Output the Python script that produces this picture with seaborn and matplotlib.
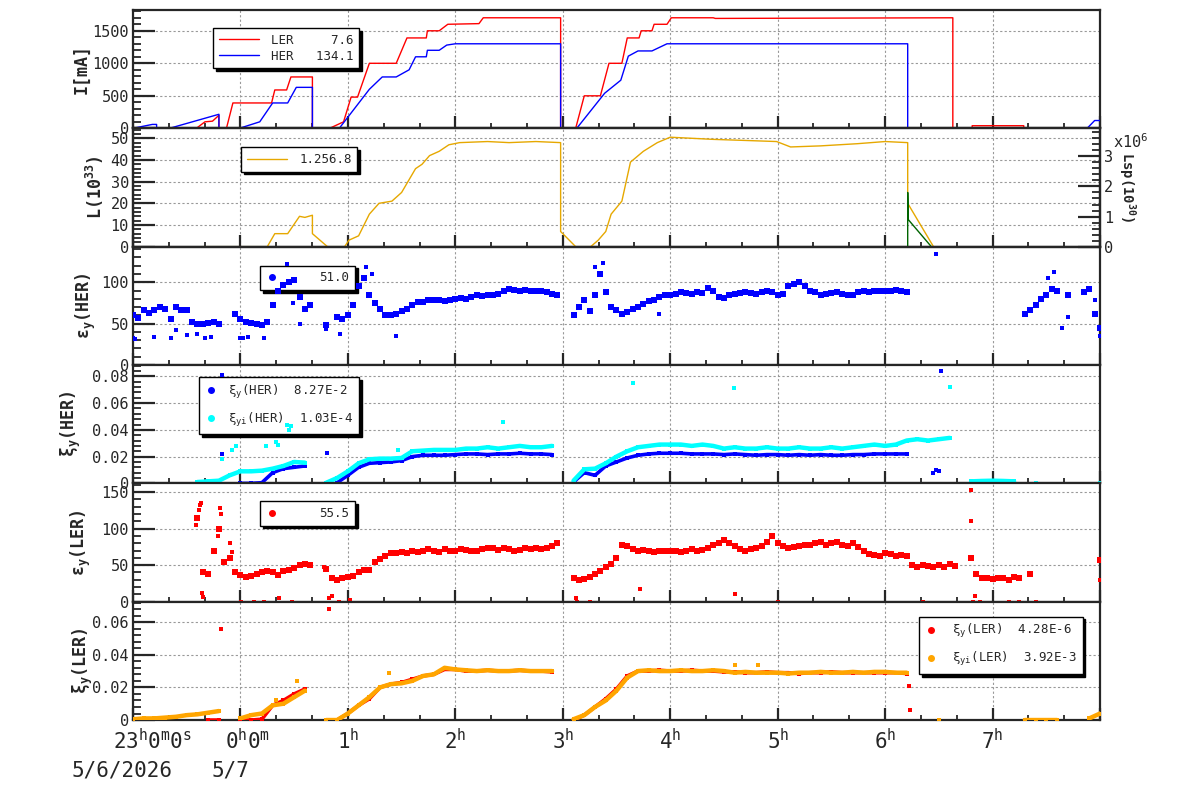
import numpy as np
import pandas as pd
import seaborn as sns
import matplotlib
matplotlib.use("Agg")
import matplotlib.pyplot as plt
from matplotlib.ticker import MultipleLocator, AutoMinorLocator, FuncFormatter
from matplotlib.lines import Line2D

nan = np.nan

# time is in hours from 0:00 on 5/7 (23:00 on 5/6 = -1)

# ---- beam currents [mA], breakpoints
ler_t = [-1.0, -0.41, -0.33, -0.26, -0.2, -0.2, -0.13, -0.07, 0.29, 0.32, 0.43, 0.47, 0.67, 0.67,
         0.83, 0.96, 1.03, 1.09, 1.2, 1.45, 1.55, 1.73, 1.74, 1.85, 1.93, 2.22, 2.26, 2.98, 2.98,
         3.12, 3.2, 3.35, 3.43, 3.55, 3.6, 3.71, 3.73, 3.83, 3.85, 3.97, 4.01, 4.4, 4.42, 6.63, 6.63,
         6.81, 6.81, 7.29, 7.29, 8.0]
ler_i = [0, 0, 100, 110, 200, 0, 0, 390, 390, 590, 590, 790, 790, 0,
         0, 100, 480, 480, 1000, 1000, 1390, 1390, 1500, 1500, 1600, 1610, 1700, 1700, 0,
         0, 500, 500, 1000, 1000, 1390, 1390, 1500, 1500, 1600, 1600, 1700, 1700, 1690, 1700, 0,
         0, 40, 40, 0, 0]
her_t = [-1.0, -0.82, -0.78, -0.78, -0.66, -0.2, -0.2, -0.01, 0.18, 0.3, 0.44, 0.52, 0.67, 0.67,
         0.92, 1.2, 1.32, 1.45, 1.57, 1.63, 1.73, 1.74, 1.85, 1.92, 2.0, 2.98, 2.98,
         3.13, 3.39, 3.54, 3.61, 3.7, 3.83, 3.97, 6.21, 6.21, 7.88, 7.95, 8.0]
her_i = [0, 60, 60, 0, 0, 216, 0, 0, 100, 390, 390, 630, 630, 0,
         0, 600, 790, 790, 900, 1100, 1100, 1200, 1200, 1280, 1300, 1300, 0,
         0, 540, 740, 1110, 1190, 1190, 1300, 1300, 0, 0, 120, 120]

# ---- luminosity [1e33] and specific luminosity
lum_t = [-0.36, 0.25, 0.32, 0.44, 0.55, 0.6, 0.67, 0.67, 0.81, 0.97, 1.01, 1.1, 1.2, 1.29, 1.41,
         1.5, 1.63, 1.69, 1.76, 1.85, 1.94, 2.04, 2.3, 2.5, 2.75, 2.98, 2.98, 3.12, 3.26, 3.33,
         3.4, 3.45, 3.55, 3.63, 3.75, 3.88, 4.0, 4.2, 4.4, 4.7, 4.99, 5.12, 5.4, 5.74, 6.0, 6.21,
         6.21, 6.45]
lum_v = [0, 0, 6, 6, 14, 13.5, 14.5, 6, 0, 0, 3, 5, 15, 20, 21,
         25, 36, 38, 42, 44, 47, 48, 48.5, 48, 48.5, 48, 7, 0, 0, 3,
         7, 15, 21, 39, 44, 48, 50.5, 50, 49.5, 49, 48.5, 46, 46.5, 47.5, 48.5, 48,
         20, 0]
lsp_t = [6.21, 6.21, 6.215, 6.43]
lsp_v = [0, 1.8e6, 0.9e6, 0]

# ---- vertical emittance, one reading every 3 minutes (-1.00 ... 8.00)
t05 = np.round(np.arange(-1.0, 8.0001, 0.05), 2)
eps_her = (
    [60, 57, 66, 63, 67, 70, 68, 56, 70, 67, 66, 52, 50, 49, 51, 52, 50, nan, nan, 62]
    + [55, 52, 51, 50, 48, 52, 72, 90, 97, 100, 103, 82, 68, 72, nan, nan, 48, nan, 58, 55]
    + [60, 72, 95, 105, 85, 75, 68, 60, 60, 62, 65, 68, 72, 76, 76, 78, 79, 78, 77, 79]
    + [80, 81, 80, 82, 84, 83, 84, 85, 86, 90, 92, 91, 90, 91, 90, 89, 90, 88, 86, 84]
    + [nan, nan, 60, 70, 78, 65, 85, 110, 88, 70, 66, 62, 64, 68, 70, 74, 77, 79, 82, 84]
    + [85, 86, 88, 87, 86, 88, 87, 93, 90, 82, 81, 84, 86, 87, 88, 87, 86, 88, 90, 88]
    + [84, 86, 95, 98, 100, 96, 90, 88, 85, 86, 87, 88, 86, 85, 84, 88, 89, 88, 90, 89]
    + [90, 89, 91, 90, 88] + [nan] * 15
    + [nan] * 6 + [62, 66, 72, 80, 85, 92, 90, nan, 85, nan, nan, 88, 92, 62]
    + [45]
)
eps_ler = (
    [nan] * 12 + [115, 40, 38, 70, 100, 55, 60, 40]
    + [36, 34, 35, 38, 40, 42, 40, 37, 42, 44, 46, 50, 52, 50, nan, nan, 45, 33, 30, 33]
    + [34, 35, 40, 43, 44, 55, 58, 62, 66, 67, 68, 66, 70, 68, 69, 72, 70, 68, 72, 70]
    + [70, 72, 71, 69, 70, 72, 74, 73, 71, 73, 72, 70, 71, 73, 72, 74, 72, 73, 76, 80]
    + [nan, nan, 33, 30, 31, 34, 38, 42, 48, 52, 60, 78, 76, 72, 70, 71, 70, 68, 69, 70]
    + [69, 70, 68, 70, 72, 70, 71, 74, 78, 80, 84, 80, 76, 72, 70, 72, 74, 76, 82, 90]
    + [80, 76, 74, 75, 76, 78, 78, 80, 82, 78, 80, 82, 78, 76, 80, 75, 70, 65, 64, 63]
    + [66, 65, 62, 64, 62, 50, 48, 50, 49, 47, 50, 48, 52, 49, nan, nan, 60, 38, 33, 32]
    + [31, 33, 32, 30, 34, 32, nan, 38] + [nan] * 12
    + [57]
)
eps_her_out_t = [-1.0, -0.98, -0.8, -0.65, -0.6, -0.5, -0.4, -0.33, -0.27, 0.0, 0.02, 0.07, 0.22,
                 0.43, 0.49, 0.55, 0.8, 0.93, 1.17, 1.22, 1.45, 3.3, 3.37, 3.9, 6.47, 7.52, 7.57,
                 7.65, 7.7, 7.95, 8.0]
eps_her_out_v = [33, 32, 34, 33, 42, 36, 38, 33, 34, 33, 33, 34, 33,
                 122, 75, 50, 43, 38, 118, 110, 35, 118, 123, 62, 134, 105, 112,
                 45, 58, 78, 35]
eps_ler_out_t = [-0.41, -0.39, -0.38, -0.37, -0.36, -0.35, -0.21, -0.19, -0.18, -0.1, -0.08,
                 0.01, 0.13, 0.22, 0.36, 0.48, 0.78, 0.82, 0.85, 0.92, 1.02, 3.12, 3.13, 3.25,
                 3.72, 4.6, 5.0, 6.35, 6.8, 6.8, 6.82, 6.84, 6.88, 7.15, 7.25, 7.4, 8.0]
eps_ler_out_v = [105, 125, 132, 135, 12, 6, 90, 128, 120, 80, 68,
                 0, 0, 0, 5, 0, 48, 5, 8, 0, 2, 5, 0, 0,
                 18, 10, 0, 0, 153, 110, 0, 8, 0, 0, 0, 0, 30]

# ---- beam-beam parameters, one reading every 6 minutes (-1.0 ... 8.0)
t10 = np.round(np.arange(-1.0, 8.0001, 0.1), 1)
xi_her_y = (
    [nan] * 10
    + [0.0, 0.0, 0.0005, 0.008, 0.011, 0.012, 0.013, nan, nan, 0.0005]
    + [0.006, 0.012, 0.015, 0.0155, 0.016, 0.017, 0.020, 0.021, 0.021, 0.021]
    + [0.0215, 0.022, 0.022, 0.0215, 0.022, 0.022, 0.0225, 0.022, 0.022, 0.0215]
    + [nan, 0.001, 0.008, 0.006, 0.013, 0.016, 0.019, 0.021, 0.022, 0.0225]
    + [0.0225, 0.0225, 0.022, 0.022, 0.022, 0.0215, 0.022, 0.0215, 0.021, 0.0215]
    + [0.0215, 0.021, 0.0215, 0.021, 0.0215, 0.021, 0.021, 0.0215, 0.0215, 0.022]
    + [0.022, 0.022, 0.022] + [nan] * 7
    + [nan] * 10
    + [nan]
)
xi_her_yi = (
    [nan] * 6 + [0.001, 0.0015, 0.002, 0.006]
    + [0.009, 0.009, 0.0095, 0.011, 0.013, 0.016, 0.0155, nan, 0.0005, 0.004]
    + [0.009, 0.015, 0.018, 0.0185, 0.0185, 0.019, 0.024, 0.0245, 0.025, 0.025]
    + [0.025, 0.026, 0.026, 0.027, 0.026, 0.027, 0.028, 0.027, 0.027, 0.028]
    + [nan, 0.002, 0.0105, 0.011, 0.015, 0.020, 0.024, 0.027, 0.028, 0.029]
    + [0.029, 0.029, 0.028, 0.029, 0.028, 0.026, 0.027, 0.026, 0.026, 0.027]
    + [0.026, 0.026, 0.027, 0.026, 0.026, 0.027, 0.026, 0.027, 0.028, 0.029]
    + [0.028, 0.029, 0.032, 0.033, 0.032, 0.033, 0.034, nan, 0.0015, 0.0018]
    + [0.002, 0.0018, 0.0015, nan, 0.0005, nan, nan, nan, nan, nan]
    + [0.0]
)
xi_ler_y = (
    [nan] * 7 + [0.0, 0.0, nan]
    + [0.0, 0.0, 0.0005, 0.009, 0.012, 0.016, 0.019, nan, nan, 0.0]
    + [0.004, 0.009, 0.013, 0.020, 0.022, 0.023, 0.025, 0.027, 0.028, 0.031]
    + [0.031, 0.030, 0.030, 0.0305, 0.030, 0.030, 0.0305, 0.030, 0.030, 0.0295]
    + [nan, 0.0, 0.003, 0.008, 0.013, 0.019, 0.027, 0.030, 0.030, 0.0305]
    + [0.030, 0.030, 0.0305, 0.030, 0.030, 0.0295, 0.0295, 0.029, 0.029, 0.0295]
    + [0.029, 0.029, 0.0285, 0.029, 0.029, 0.0295, 0.029, 0.029, 0.029, 0.029]
    + [0.029, 0.029, 0.0285] + [nan] * 7
    + [nan] * 10
    + [nan]
)
xi_ler_yi = (
    [0.0005, 0.001, 0.001, 0.0015, 0.002, 0.003, 0.0035, 0.0045, 0.0055, nan]
    + [0.001, 0.003, 0.004, 0.009, 0.010, 0.014, 0.018, nan, 0.0, 0.0]
    + [0.004, 0.009, 0.014, 0.020, 0.022, 0.0225, 0.024, 0.027, 0.028, 0.032]
    + [0.031, 0.0305, 0.030, 0.0305, 0.030, 0.030, 0.0305, 0.030, 0.030, 0.030]
    + [nan, 0.0005, 0.003, 0.008, 0.012, 0.018, 0.026, 0.030, 0.0305, 0.030]
    + [0.030, 0.0305, 0.030, 0.030, 0.0305, 0.030, 0.029, 0.0295, 0.029, 0.029]
    + [0.029, 0.0285, 0.029, 0.029, 0.0295, 0.029, 0.029, 0.0295, 0.029, 0.0295]
    + [0.0295, 0.029, 0.029, nan, nan, 0.0, nan, nan, nan, nan]
    + [nan, nan, nan, 0.0, 0.0, 0.0, 0.0, nan, nan, 0.001]
    + [0.004]
)
xi_her_y_out_t = [-0.17, -0.17, 0.81, 6.45, 6.47, 6.5, 6.52]
xi_her_y_out_v = [0.081, 0.022, 0.023, 0.008, 0.010, 0.009, 0.084]
xi_her_yi_out_t = [-0.17, -0.08, -0.04, 0.24, 0.33, 0.35, 0.43, 0.45, 0.47, 1.47, 2.44, 3.65, 4.59, 6.6]
xi_her_yi_out_v = [0.018, 0.025, 0.028, 0.028, 0.031, 0.0285, 0.044, 0.040, 0.043, 0.025, 0.046,
                   0.075, 0.071, 0.072]
xi_ler_y_out_t = [-0.18, 0.82, 6.22, 6.23]
xi_ler_y_out_v = [0.0555, 0.068, 0.021, 0.0064]
xi_ler_yi_out_t = [0.33, 0.53, 1.38, 4.6, 4.82]
xi_ler_yi_out_v = [0.0125, 0.024, 0.029, 0.034, 0.034]

hour_ticks = [1, 2, 3, 4, 5, 6, 7]

# ---------------------------------------------------------------------------
sns.set_style("ticks")
plt.rcParams['font.family'] = ['DejaVu Sans Mono', 'DejaVu Sans']
plt.rcParams['mathtext.fontset'] = 'dejavusans'
plt.rcParams['mathtext.default'] = 'regular'
plt.rcParams['axes.linewidth'] = 1.6

RED, BLUE, CYAN, ORANGE = '#ff0000', '#0000ff', '#00ffff', '#ffa500'
LUMC, GREEN = '#e6a800', '#006400'

fig, axes = plt.subplots(6, 1, sharex=True, figsize=(12, 7.98), dpi=100,
                         gridspec_kw=dict(hspace=0))
fig.subplots_adjust(left=0.1108, right=0.9167, top=0.9875, bottom=0.0977)


def fmt(v, p):
    return '0' if abs(v) < 1e-12 else f'{v:g}'


def style(ax, top, major, ylabel, labx):
    ax.set_xlim(-1, 8)
    ax.set_ylim(0, top)
    ax.set_axisbelow(True)
    ax.xaxis.set_major_locator(MultipleLocator(1))
    ax.xaxis.set_minor_locator(MultipleLocator(1 / 3))
    ax.yaxis.set_major_locator(MultipleLocator(major))
    ax.yaxis.set_minor_locator(AutoMinorLocator(5))
    ax.yaxis.set_major_formatter(FuncFormatter(fmt))
    ax.tick_params(axis='x', which='major', direction='in', length=8.5, width=1.6,
                   top=False, labelbottom=False)
    ax.tick_params(axis='x', which='minor', direction='in', length=3.5, width=1.3, top=False)
    ax.tick_params(axis='y', which='major', direction='in', length=16, width=1.6,
                   labelsize=11, pad=3, right=False)
    ax.tick_params(axis='y', which='minor', direction='in', length=6, width=1.3, right=False)
    ax.grid(True, which='major', color='#999999', ls=(0, (2, 2)), lw=0.8)
    ax.set_ylabel(ylabel, fontsize=12, fontweight='bold')
    ax.yaxis.set_label_coords(labx, 0.5)


def legend(ax, handles, labels, x, y, spacing, hlen=3.2, hpad=1.0):
    lg = ax.legend(handles, labels, loc='upper left', bbox_to_anchor=(x, y),
                   frameon=True, fancybox=False, framealpha=1, edgecolor='black',
                   shadow={'facecolor': 'black', 'edgecolor': 'black', 'alpha': 1},
                   fontsize=9, handlelength=hlen, borderpad=0.45, labelspacing=spacing,
                   handletextpad=hpad, borderaxespad=0)
    lg.get_frame().set_linewidth(1.0)
    lg.set_zorder(2.5)
    return lg


def dots(ax, t, v, color, size=9):
    sns.scatterplot(x=t, y=v, ax=ax, color=color, marker='s', s=size, linewidth=0, zorder=3,
                    legend=False)


def band(ax, t, v, color, lw=2.6):
    ax.plot(t, v, color=color, lw=lw, marker='s', ms=3, mew=0, zorder=3)


def dot_handle(color):
    return Line2D([], [], color=color, marker='o', ls='', ms=4)


# panel 1: currents
ax = axes[0]
sns.lineplot(x=ler_t, y=ler_i, ax=ax, color=RED, lw=1, estimator=None, sort=False, zorder=3)
sns.lineplot(x=her_t, y=her_i, ax=ax, color=BLUE, lw=1, estimator=None, sort=False, zorder=3)
style(ax, 1820, 500, 'I[mA]', -0.044)
legend(ax, [Line2D([], [], color=RED, lw=1), Line2D([], [], color=BLUE, lw=1)],
       ['LER     7.6', 'HER   134.1'], 0.0827, 0.847, 0.25)

# panel 2: luminosity
ax = axes[1]
sns.lineplot(x=lum_t, y=lum_v, ax=ax, color=LUMC, lw=1, estimator=None, sort=False, zorder=3)
style(ax, 54.6, 10, 'L(10$^{33}$)', -0.028)
legend(ax, [Line2D([], [], color=LUMC, lw=1)], ['1.256.8'], 0.1117, 0.839, 0.3)
axr = ax.twinx()
sns.lineplot(x=lsp_t, y=lsp_v, ax=axr, color=GREEN, lw=1, estimator=None, sort=False)
axr.set_ylim(0, 3.93e6)
axr.yaxis.set_major_locator(MultipleLocator(1e6))
axr.yaxis.set_minor_locator(AutoMinorLocator(5))
axr.yaxis.set_major_formatter(FuncFormatter(lambda v, p: f'{v / 1e6:g}'))
axr.tick_params(axis='y', which='major', direction='in', length=16, width=1.6, labelsize=11, pad=3)
axr.tick_params(axis='y', which='minor', direction='in', length=6, width=1.3)
axr.set_ylabel('Lsp(10$^{30}$)', rotation=270, va='bottom', fontsize=10, fontweight='bold')
axr.yaxis.set_label_coords(1.016, 0.5)
fig.text(1113 / 1200, 1 - 148 / 798, 'x10$^6$', fontsize=11, ha='left', va='baseline')

# panel 3: HER emittance
ax = axes[2]
dots(ax, t05, eps_her, BLUE, 14)
dots(ax, eps_her_out_t, eps_her_out_v, BLUE, 10)
style(ax, 143, 50, 'ε$_y$(HER)', -0.036)
legend(ax, [dot_handle(BLUE)], ['51.0'], 0.1313, 0.839, 0.3, hlen=1.0, hpad=3.3)

# panel 4: HER beam-beam
ax = axes[3]
band(ax, t10, xi_her_y, BLUE)
dots(ax, xi_her_y_out_t, xi_her_y_out_v, BLUE, 10)
band(ax, t10, xi_her_yi, CYAN, 3.2)
dots(ax, xi_her_yi_out_t, xi_her_yi_out_v, CYAN, 10)
style(ax, 0.0885, 0.02, 'ξ$_y$(HER)', -0.052)
legend(ax, [dot_handle(BLUE), dot_handle(CYAN)],
       ['ξ$_y$(HER)  8.27E-2', 'ξ$_{yi}$(HER)  1.03E-4'], 0.0683, 0.898, 0.8,
       hlen=1.0, hpad=0.9)

# panel 5: LER emittance
ax = axes[4]
dots(ax, t05, eps_ler, RED, 14)
dots(ax, eps_ler_out_t, eps_ler_out_v, RED, 10)
style(ax, 162, 50, 'ε$_y$(LER)', -0.041)
legend(ax, [dot_handle(RED)], ['55.5'], 0.1313, 0.847, 0.3, hlen=1.0, hpad=3.3)

# panel 6: LER beam-beam
ax = axes[5]
band(ax, t10, xi_ler_y, RED)
dots(ax, xi_ler_y_out_t, xi_ler_y_out_v, RED, 10)
band(ax, t10, xi_ler_yi, ORANGE, 3.2)
dots(ax, xi_ler_yi_out_t, xi_ler_yi_out_v, ORANGE, 10)
style(ax, 0.0725, 0.02, 'ξ$_y$(LER)', -0.039)
legend(ax, [dot_handle(RED), dot_handle(ORANGE)],
       ['ξ$_y$(LER)  4.28E-6', 'ξ$_{yi}$(LER)  3.92E-3'], 0.8128, 0.873, 0.8,
       hlen=1.0, hpad=1.2)

# time axis labels
kw = dict(xycoords=('data', 'axes fraction'), textcoords='offset points', ha='center',
          va='top', fontsize=15, annotation_clip=False)
for h in hour_ticks:
    ax.annotate(f'{h}$^h$', (h, 0), xytext=(0, -6), **kw)
ax.annotate('23$^h$0$^m$0$^s$', (-0.819, 0), xytext=(0, -6), **kw)
ax.annotate('0$^h$0$^m$', (0.065, 0), xytext=(0, -6), **kw)
ax.annotate('5/6/2026', (-1.098, 0), xytext=(0, -29), **kw)
ax.annotate('5/7', (-0.093, 0), xytext=(0, -29), **kw)

fig.savefig('out.png', dpi=100)
